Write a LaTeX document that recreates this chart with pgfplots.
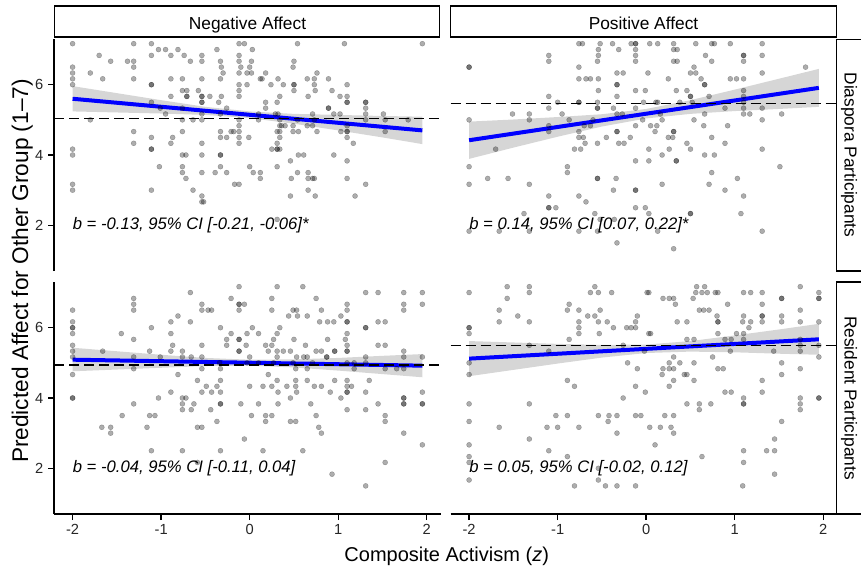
\documentclass[border=0pt]{standalone}
\usepackage{fontspec}
\setmainfont{Liberation Sans}
\usepackage{pgfplots}
\pgfplotsset{compat=1.18}
\usepgfplotslibrary{fillbetween}

\pgfplotsset{
  facet/.style={
    scale only axis, width=289.875pt, height=174pt,
    xmin=-2.21, xmax=2.155, ymin=0.7, ymax=7.3,
    axis line style={line width=1.05pt, black},
    tick style={line width=1.05pt, black},
    major tick length=4.5pt, tick align=outside,
    tick label style={font=\fontsize{11}{13}\selectfont, text=black!85},
    xtick={-2,-1,0,1,2}, xticklabels={-2,-1,0,1,2},
    ytick={2,4,6}, yticklabels={2,4,6},
  },
  pts/.style={only marks, mark=*, mark size=1.9pt,
    mark options={draw=black, fill=black, opacity=0.32, line width=0.25pt}},
  fit/.style={blue, line width=3pt, no marks},
  ref/.style={black, line width=1.05pt, no marks, dash pattern=on 7.5pt off 3.75pt},
  band/.style={fill=black!40, fill opacity=0.4, draw=none},
}
\tikzset{note/.style={anchor=west, inner sep=0pt, font=\fontsize{12.5}{14}\selectfont\itshape}}

\begin{document}
\begin{tikzpicture}

% ---------- Diaspora / Negative Affect ----------
\begin{axis}[facet, at={(40.5pt,-203.25pt)}, anchor=south west,
  axis y line*=left, axis x line=none, xtick=\empty]
\addplot[pts] coordinates {
(-2,7.167) (-1.31,7.167) (-1.11,7.167) (-0.12,7.167) (-0.06,7.167) (0.54,7.167) (1.07,7.167) (1.95,7.167)
(-1.03,7) (-0.95,7) (-0.81,7) (-0.37,7) (0.03,7)
(-1.70,6.833) (-1.11,6.833) (-0.89,6.833) (-0.74,6.833) (-0.54,6.833) (-0.12,6.833)
(-1.57,6.667) (-1.38,6.667) (-1.31,6.667) (-0.67,6.667) (-0.54,6.667) (-0.33,6.667) (-0.12,6.667) (0.02,6.667) (0.50,6.667)
(-2,6.5) (-1.31,6.5) (-0.32,6.5) (-0.10,6.5) (0,6.5) (0.49,6.5)
(-2,6.333) (-1.80,6.333) (-0.30,6.333) (-0.12,6.333) (-0.03,6.333) (0.02,6.333) (0.18,6.333) (0.76,6.333)
(-2,6.167) (-1.66,6.167) (-1.31,6.167) (-0.89,6.167) (-0.76,6.167) (-0.54,6.167) (-0.33,6.167) (0.12,6.167) (0.14,6.167) (0.32,6.167) (0.65,6.167) (0.73,6.167) (0.89,6.167)
(-2,6) (-1.11,6) (-1.11,6) (-0.12,6) (-0.03,6) (0.24,6) (0.38,6) (0.50,6) (0.50,6) (0.73,6) (1.10,6)
(-0.76,5.833) (-0.71,5.833) (-0.58,5.833) (-0.12,5.833) (0.50,5.833) (0.74,5.833) (0.93,5.833)
(-0.89,5.667) (-0.71,5.667) (-0.71,5.667) (-0.54,5.667) (-0.54,5.667) (-0.45,5.667) (-0.32,5.667) (-0.12,5.667) (0.34,5.667) (0.66,5.667) (1.02,5.667) (1.10,5.667)
(-1.11,5.5) (-0.54,5.5) (-0.54,5.5) (-0.35,5.5) (0.18,5.5) (0.31,5.5) (1.10,5.5) (1.10,5.5) (1.31,5.5) (1.31,5.5)
(-1.01,5.333) (-0.76,5.333) (-0.26,5.333) (0.18,5.333) (0.89,5.333) (0.89,5.333) (1.31,5.333)
(-0.95,5.167) (-0.54,5.167) (-0.33,5.167) (0.10,5.167) (0.29,5.167) (0.32,5.167) (0.71,5.167) (0.95,5.167) (1.02,5.167) (1.31,5.167) (1.51,5.167)
(-1.80,5) (-0.76,5) (-0.64,5) (-0.54,5) (-0.12,5) (0.10,5) (0.34,5) (0.54,5) (0.73,5) (1.31,5) (1.53,5) (1.79,5)
(-0.12,4.833) (0.34,4.833) (0.36,4.833) (0.40,4.833) (0.49,4.833) (0.65,4.833) (0.71,4.833) (1.10,4.833)
(-1.31,4.667) (-0.76,4.667) (-0.33,4.667) (-0.21,4.667) (-0.18,4.667) (-0.12,4.667) (0.31,4.667) (0.34,4.667) (0.49,4.667) (0.55,4.667) (0.76,4.667) (1.03,4.667) (1.10,4.667) (1.10,4.667) (1.53,4.667)
(-1.11,4.5) (-0.87,4.5) (-0.33,4.5) (-0.26,4.5) (-0.12,4.5) (-0.01,4.5) (0.34,4.5) (1.10,4.5)
(-1.31,4.333) (-0.89,4.333) (-0.54,4.333) (-0.12,4.333) (0.31,4.333) (1.17,4.333)
(-2,4.167) (-1.11,4.167) (-1.11,4.167) (0.25,4.167) (0.31,4.167) (0.31,4.167) (0.34,4.167)
(-2,4) (-0.76,4) (-0.72,4) (-0.54,4) (-0.33,4) (-0.33,4) (0.55,4) (0.61,4) (0.95,4)
(0.46,3.833) (1.10,3.833)
(-1.02,3.667) (-0.76,3.667) (-0.33,3.667) (0,3.667) (0.31,3.667)
(-0.76,3.5) (-0.54,3.5) (-0.39,3.5) (-0.26,3.5) (0.04,3.5) (0.12,3.5) (0.54,3.5) (0.66,3.5)
(-0.72,3.333) (0.12,3.333) (0.47,3.333) (0.66,3.333) (0.71,3.333) (0.73,3.333) (1.10,3.333)
(-2,3.167) (-0.17,3.167) (-0.12,3.167) (1.31,3.167)
(-2,3) (-1.11,3) (-0.64,3) (0.66,3)
(-0.54,2.833) (0.46,2.833) (0.74,2.833) (1.19,2.833)
(-0.54,2.667) (-0.52,2.667)
(0.31,2.167)
};
\addplot[draw=none, no marks, name path=tlU] coordinates {(-2,5.96) (-1.5,5.76) (-1,5.56) (-0.5,5.37) (0,5.24) (0.5,5.17) (1,5.14) (1.5,5.11) (1.95,5.09)};
\addplot[draw=none, no marks, name path=tlL] coordinates {(-2,5.24) (-1.5,5.21) (-1,5.18) (-0.5,5.14) (0,5.05) (0.5,4.89) (1,4.70) (1.5,4.50) (1.95,4.31)};
\addplot[band] fill between[of=tlU and tlL];
\addplot[fit] coordinates {(-2,5.60) (1.95,4.70)};
\addplot[ref] coordinates {(-2.21,5.03) (2.155,5.03)};
\node[note] at (axis cs:-2,2) {b = -0.13, 95\% CI [-0.21, -0.06]*};
\end{axis}

% ---------- Diaspora / Positive Affect ----------
\begin{axis}[facet, at={(337.875pt,-203.25pt)}, anchor=south west, hide axis]
\addplot[pts] coordinates {
(-0.76,7.167) (-0.72,7.167) (-0.52,7.167) (-0.38,7.167) (-0.17,7.167) (-0.12,7.167) (-0.12,7.167) (0.04,7.167) (0.13,7.167) (0.31,7.167) (0.56,7.167) (0.74,7.167) (0.77,7.167) (0.95,7.167) (1.31,7.167)
(-0.54,7) (-0.31,7) (-0.12,7) (0.31,7) (0.35,7)
(-1.10,6.833) (-0.54,6.833) (-0.12,6.833) (0.67,6.833) (1.10,6.833) (1.10,6.833) (1.31,6.833)
(-1.10,6.667) (-0.55,6.667) (-0.12,6.667) (0.31,6.667) (0.35,6.667) (0.74,6.667) (1.10,6.667)
(-2,6.5) (-2,6.5) (-0.76,6.5) (0.54,6.5) (1.80,6.5)
(-0.33,6.333) (-0.26,6.333) (0.02,6.333) (0.50,6.333) (0.56,6.333) (1.31,6.333)
(-0.76,6.167) (-0.68,6.167) (-0.63,6.167) (-0.54,6.167) (0.25,6.167) (0.62,6.167) (0.95,6.167) (1.02,6.167) (1.10,6.167)
(-0.33,6) (-0.33,6) (0.66,6) (0.66,6)
(-0.54,5.833) (-0.12,5.833) (-0.01,5.833) (0.34,5.833) (0.46,5.833) (1.10,5.833)
(-1.10,5.667) (-0.33,5.667) (0.50,5.667) (0.50,5.667) (0.71,5.667) (1.10,5.667)
(-1.00,5.5) (-0.76,5.5) (-0.76,5.5) (-0.55,5.5) (-0.03,5.5) (0.11,5.5) (0.13,5.5) (0.38,5.5) (0.52,5.5) (1.10,5.5)
(-1.10,5.333) (-0.55,5.333) (-0.55,5.333) (-0.37,5.333) (-0.12,5.333) (0.89,5.333) (1.10,5.333) (1.31,5.333)
(-1.51,5.167) (-1.32,5.167) (-0.95,5.167) (-0.33,5.167) (-0.27,5.167) (0.16,5.167) (0.66,5.167) (1.10,5.167) (1.17,5.167) (1.53,5.167)
(-2,5) (-1.32,5) (-0.87,5) (-0.60,5) (-0.04,5) (0.18,5) (0.54,5) (1.31,5)
(-1.10,4.833) (-0.70,4.833) (-0.63,4.833) (-0.12,4.833) (0.05,4.833) (0.12,4.833) (0.65,4.833) (0.92,4.833)
(-1.10,4.667) (-0.76,4.667) (-0.33,4.667) (-0.33,4.667) (0.10,4.667) (0.31,4.667) (0.31,4.667)
(-0.76,4.5) (-0.71,4.5) (-0.45,4.5) (-0.18,4.5) (0.25,4.5) (0.30,4.5) (0.74,4.5)
(-0.69,4.333) (-0.55,4.333) (-0.31,4.333) (-0.25,4.333) (0.46,4.333) (0.89,4.333)
(-1.70,4.167) (-0.81,4.167) (-0.74,4.167) (0.03,4.167) (0.26,4.167) (0.50,4.167) (1.31,4.167)
(0.18,4) (0.66,4) (0.77,4)
(-0.12,3.833) (0.03,3.833) (0.34,3.833) (0.34,3.833)
(-2,3.667) (-0.89,3.667) (1.51,3.667)
(-0.89,3.5) (0.74,3.5)
(-1.79,3.333) (-1.56,3.333) (-0.55,3.333) (-0.55,3.333) (-0.34,3.333) (1.03,3.333)
(-2,3.167) (-1.32,3.167) (0.18,3.167) (0.71,3.167)
(-0.37,3) (-0.12,3) (-0.12,3) (0.89,3)
(-1.10,2.833) (-0.76,2.833) (1.10,2.833)
(-0.68,2.667)
(-1.10,2.5) (-1.10,2.5) (-1.02,2.5) (-0.12,2.5) (-0.01,2.5)
(-1.38,2.333) (-0.58,2.333) (0.03,2.333) (0.50,2.333) (0.50,2.333) (1.07,2.333)
(-0.52,2.167) (-0.36,2.167)
(-2,1.833) (-1.66,1.833) (-1.32,1.833) (-0.76,1.833) (-0.55,1.833) (0.13,1.833) (1.31,1.833)
(-0.33,1.5)
(0.31,1.333)
};
\addplot[draw=none, no marks, name path=trU] coordinates {(-2,4.95) (-1.5,5.01) (-1,5.08) (-0.5,5.16) (0,5.31) (0.5,5.56) (1,5.86) (1.5,6.17) (1.95,6.45)};
\addplot[draw=none, no marks, name path=trL] coordinates {(-2,3.89) (-1.5,4.21) (-1,4.52) (-0.5,4.81) (0,5.04) (0.5,5.17) (1,5.25) (1.5,5.31) (1.95,5.37)};
\addplot[band] fill between[of=trU and trL];
\addplot[fit] coordinates {(-2,4.42) (1.95,5.91)};
\addplot[ref] coordinates {(-2.21,5.47) (2.155,5.47)};
\node[note] at (axis cs:-2,2) {b = 0.14, 95\% CI [0.07, 0.22]*};
\end{axis}

% ---------- Resident / Negative Affect ----------
\begin{axis}[facet, at={(40.5pt,-385.5pt)}, anchor=south west,
  axis y line*=left, axis x line*=bottom]
\addplot[pts] coordinates {
(-0.12,7.167) (0.31,7.167) (0.60,7.167)
(-0.67,7) (1.31,7) (1.45,7) (1.74,7) (1.95,7)
(-1.31,6.833) (-0.21,6.833) (0.25,6.833) (0.75,6.833)
(-1.31,6.667) (-0.54,6.667) (-0.12,6.667) (-0.12,6.667) (-0.06,6.667) (1.10,6.667) (1.74,6.667) (1.95,6.667)
(-2,6.5) (-1.31,6.5) (-0.54,6.5) (-0.47,6.5) (-0.43,6.5) (-0.12,6.5) (0.25,6.5) (0.49,6.5) (0.53,6.5) (0.81,6.5) (1.10,6.5) (1.74,6.5)
(-0.81,6.333) (0.44,6.333) (0.54,6.333) (0.65,6.333) (1.03,6.333)
(-2,6.167) (-0.89,6.167) (-0.67,6.167) (0.79,6.167) (0.88,6.167) (0.95,6.167) (1.10,6.167) (1.10,6.167) (1.45,6.167) (1.53,6.167)
(-2,6) (-2,6) (-1.11,6) (-0.33,6) (0.03,6) (0.34,6) (1.31,6) (1.31,6)
(-2,5.833) (-1.45,5.833) (-0.89,5.833) (-0.21,5.833) (-0.03,5.833) (0.10,5.833) (0.31,5.833) (1.10,5.833)
(-1.31,5.667) (-0.26,5.667) (-0.12,5.667) (-0.12,5.667) (0.27,5.667) (0.50,5.667) (0.88,5.667) (1.08,5.667)
(-2,5.5) (-0.87,5.5) (-0.54,5.5) (-0.26,5.5) (-0.04,5.5) (0.18,5.5) (0.25,5.5) (0.63,5.5) (1.10,5.5) (1.45,5.5) (1.53,5.5)
(-2,5.333) (-1.66,5.333) (-1.13,5.333) (-0.89,5.333) (-0.76,5.333) (-0.12,5.333) (-0.12,5.333) (0.21,5.333) (0.31,5.333) (0.38,5.333) (0.46,5.333) (0.75,5.333) (0.81,5.333) (0.96,5.333) (0.96,5.333) (1.10,5.333) (1.10,5.333) (1.74,5.333)
(-2,5.167) (-1.31,5.167) (-1.01,5.167) (-0.76,5.167) (-0.66,5.167) (-0.54,5.167) (0,5.167) (0.31,5.167) (0.53,5.167) (0.61,5.167) (0.65,5.167) (0.87,5.167) (0.87,5.167) (1.31,5.167) (1.74,5.167) (1.95,5.167)
(-0.34,5) (-0.03,5) (0.10,5) (0.27,5) (0.49,5) (0.71,5) (1.10,5) (1.18,5) (1.31,5)
(-1.31,4.833) (-0.54,4.833) (-0.33,4.833) (0.52,4.833) (0.65,4.833) (1.18,4.833) (1.53,4.833) (1.66,4.833) (1.74,4.833)
(-2,4.667) (-0.81,4.667) (0.21,4.667)
(-0.59,4.5) (-0.33,4.5) (0.31,4.5) (0.52,4.5) (0.65,4.5) (0.96,4.5) (1.10,4.5) (1.35,4.5)
(-0.49,4.333) (-0.37,4.333) (0,4.333) (0.15,4.333) (0.25,4.333) (0.42,4.333) (0.52,4.333) (0.73,4.333) (0.81,4.333) (1.10,4.333) (1.15,4.333)
(-0.89,4.167) (-0.54,4.167) (-0.43,4.167) (-0.33,4.167) (0.32,4.167) (0.53,4.167) (0.91,4.167) (1.10,4.167) (1.10,4.167) (1.31,4.167) (1.95,4.167)
(-2,4) (-2,4) (-1.03,4) (-0.76,4) (-0.72,4) (0.46,4) (1.03,4) (1.74,4) (1.74,4)
(-1.31,3.833) (-0.76,3.833) (-0.63,3.833) (-0.33,3.833) (-0.33,3.833) (-0.10,3.833) (0.10,3.833) (0.32,3.833) (0.69,3.833) (1.45,3.833) (1.74,3.833) (1.74,3.833) (1.95,3.833) (1.95,3.833)
(-0.76,3.667) (-0.66,3.667) (-0.44,3.667) (1.10,3.667) (1.31,3.667)
(-1.44,3.5) (-1.13,3.5) (-1.07,3.5) (0.02,3.5) (0.18,3.5) (0.25,3.5) (0.75,3.5) (1.53,3.5)
(-0.37,3.333) (0.18,3.333) (0.46,3.333) (0.52,3.333) (1.53,3.333)
(-1.67,3.167) (-1.57,3.167) (-1.16,3.167) (-0.59,3.167) (-0.54,3.167) (0.78,3.167)
(-1.57,3) (0.81,3) (1.74,3)
(-0.06,2.833)
(1.95,2.667)
(-1.11,2.5) (-0.76,2.5) (-0.33,2.5) (0.15,2.5) (0.60,2.5)
(-0.59,2.167) (1.53,2.167)
(0.93,1.833)
(1.31,1.5)
};
\addplot[draw=none, no marks, name path=blU] coordinates {(-2,5.43) (-1.5,5.33) (-1,5.23) (-0.5,5.14) (0,5.09) (0.5,5.10) (1,5.14) (1.5,5.20) (1.95,5.25)};
\addplot[draw=none, no marks, name path=blL] coordinates {(-2,4.76) (-1.5,4.81) (-1,4.86) (-0.5,4.91) (0,4.92) (0.5,4.87) (1,4.78) (1.5,4.68) (1.95,4.59)};
\addplot[band] fill between[of=blU and blL];
\addplot[fit] coordinates {(-2,5.09) (1.95,4.92)};
\addplot[ref] coordinates {(-2.21,4.94) (2.155,4.94)};
\node[note] at (axis cs:-2,2) {b = -0.04, 95\% CI [-0.11, 0.04]};
\end{axis}

% ---------- Resident / Positive Affect ----------
\begin{axis}[facet, at={(337.875pt,-385.5pt)}, anchor=south west,
  axis x line*=bottom, axis y line=none, ytick=\empty]
\addplot[pts] coordinates {
(-1.57,7.167) (-1.32,7.167) (-0.58,7.167) (0.57,7.167) (0.66,7.167) (1.74,7.167)
(-2,7) (-1.32,7) (-0.63,7) (-0.54,7) (-0.39,7) (0.01,7) (0.03,7) (0.56,7) (0.63,7) (0.69,7) (0.78,7) (0.81,7) (1.10,7) (1.18,7) (1.31,7) (1.95,7)
(-1.57,6.833) (0.19,6.833) (0.26,6.833) (0.31,6.833) (0.53,6.833) (1.53,6.833) (1.53,6.833) (1.95,6.833) (1.95,6.833)
(-0.87,6.667) (0.33,6.667) (0.92,6.667) (1.31,6.667)
(-1.66,6.5) (-0.89,6.5) (-0.76,6.5) (-0.52,6.5) (0.60,6.5) (0.65,6.5) (0.71,6.5) (1.74,6.5)
(-1.45,6.333) (-0.66,6.333) (-0.58,6.333) (-0.10,6.333) (0.80,6.333) (1.10,6.333) (1.31,6.333) (1.31,6.333) (1.53,6.333)
(-1.66,6.167) (-1.32,6.167) (-0.76,6.167) (-0.54,6.167) (-0.44,6.167) (-0.12,6.167) (0.35,6.167) (0.46,6.167) (0.81,6.167) (0.81,6.167) (1.09,6.167) (1.18,6.167) (1.31,6.167) (1.53,6.167) (1.74,6.167) (1.95,6.167)
(-2,6) (-2,6) (-0.76,6) (-0.37,6) (-0.22,6) (-0.17,6) (-0.12,6) (1.16,6)
(-2,5.833) (-0.76,5.833) (-0.53,5.833) (0.03,5.833) (0.05,5.833) (0.81,5.833) (1.02,5.833) (1.10,5.833)
(-0.87,5.667) (0.46,5.667) (0.54,5.667) (0.89,5.667) (0.96,5.667) (1.10,5.667) (1.74,5.667)
(-1.32,5.5) (-0.26,5.5) (1.74,5.5) (1.95,5.5)
(-1.10,5.333) (-0.02,5.333) (0.95,5.333) (1.44,5.333) (1.74,5.333)
(0.31,5.167) (0.75,5.167) (1.95,5.167)
(-2,5) (-0.21,5) (0.26,5) (0.38,5) (0.54,5) (1.53,5)
(-0.10,4.833) (0.19,4.833) (0.26,4.833) (0.31,4.833) (0.81,4.833) (0.87,4.833) (1.74,4.833)
(-2,4.667) (0.18,4.667) (0.43,4.667) (0.46,4.667) (1.53,4.667)
(-0.89,4.5) (0.31,4.5) (0.54,4.5) (1.31,4.5)
(-0.81,4.333) (-0.12,4.333) (0.26,4.333)
(-0.01,4.167) (0.89,4.167) (0.96,4.167) (1.31,4.167)
(-0.26,4) (1.10,4) (1.74,4) (1.95,4) (1.95,4)
(-2,3.833) (-1.32,3.833) (0.46,3.833) (0.60,3.833) (0.73,3.833) (1.10,3.833) (1.10,3.833) (1.74,3.833)
(0.60,3.667) (1.74,3.667)
(-1.02,3.5) (-0.89,3.5) (-0.54,3.5) (-0.42,3.5) (-0.33,3.5) (-0.12,3.5) (-0.06,3.5) (0.21,3.5) (0.31,3.5)
(-2,3.333) (-0.43,3.333) (1.53,3.333)
(-1.66,3.167) (-1.12,3.167) (-1.00,3.167) (-0.76,3.167) (0.04,3.167) (0.16,3.167) (0.28,3.167)
(-0.33,3) (0.31,3)
(-1.32,2.833) (1.45,2.833)
(-2,2.667) (0.10,2.667)
(-1.10,2.5) (1.10,2.5) (1.36,2.5) (1.45,2.5)
(-2,2.333) (-0.89,2.333) (0.63,2.333)
(-2,2.167) (1.10,2.167)
(-0.54,2)
(1.45,1.833)
(-2,1.667) (-0.54,1.667)
(-0.81,1.5) (-0.46,1.5) (-0.33,1.5) (-0.12,1.5) (1.09,1.5)
};
\addplot[draw=none, no marks, name path=brU] coordinates {(-2,5.62) (-1.5,5.58) (-1,5.54) (-0.5,5.51) (0,5.52) (0.5,5.62) (1,5.78) (1.5,5.95) (1.95,6.11)};
\addplot[draw=none, no marks, name path=brL] coordinates {(-2,4.62) (-1.5,4.80) (-1,4.98) (-0.5,5.15) (0,5.28) (0.5,5.32) (1,5.30) (1.5,5.26) (1.95,5.23)};
\addplot[band] fill between[of=brU and brL];
\addplot[fit] coordinates {(-2,5.12) (1.95,5.67)};
\addplot[ref] coordinates {(-2.21,5.49) (2.155,5.49)};
\node[note] at (axis cs:-2,2) {b = 0.05, 95\% CI [-0.02, 0.12]};
\end{axis}

% ---------- strips and titles (pixel grid of the reference) ----------
\begin{scope}[x=0.75pt, y=-0.75pt]
\draw[line width=1.3pt, fill=white] (54.5,6) rectangle (439.5,37);
\draw[line width=1.3pt, fill=white] (450.5,6) rectangle (836.5,37);
\draw[line width=1.3pt, fill=white] (836.5,39.5) rectangle (868,271);
\draw[line width=1.3pt, fill=white] (836.5,282) rectangle (868,514);
\node[anchor=base, inner sep=0pt, font=\fontsize{13}{15}\selectfont] at (247.5,29.3) {Negative Affect};
\node[anchor=base, inner sep=0pt, font=\fontsize{13}{15}\selectfont] at (643.5,29.3) {Positive Affect};
\node[anchor=base, rotate=-90, inner sep=0pt, font=\fontsize{13}{15}\selectfont] at (844.5,155) {Diaspora Participants};
\node[anchor=base, rotate=-90, inner sep=0pt, font=\fontsize{13}{15}\selectfont] at (844.5,398) {Resident Participants};
\node[anchor=base, inner sep=0pt, font=\fontsize{15}{17}\selectfont] at (446.7,561) {Composite Activism (\textit{z})};
\node[anchor=base, rotate=90, inner sep=0pt, font=\fontsize{17}{19}\selectfont] at (28,271) {Predicted Affect for Other Group (1–7)};
\end{scope}

\pgfresetboundingbox
\useasboundingbox (0,0) rectangle (645.75pt,-425.25pt);
\end{tikzpicture}
\end{document}
